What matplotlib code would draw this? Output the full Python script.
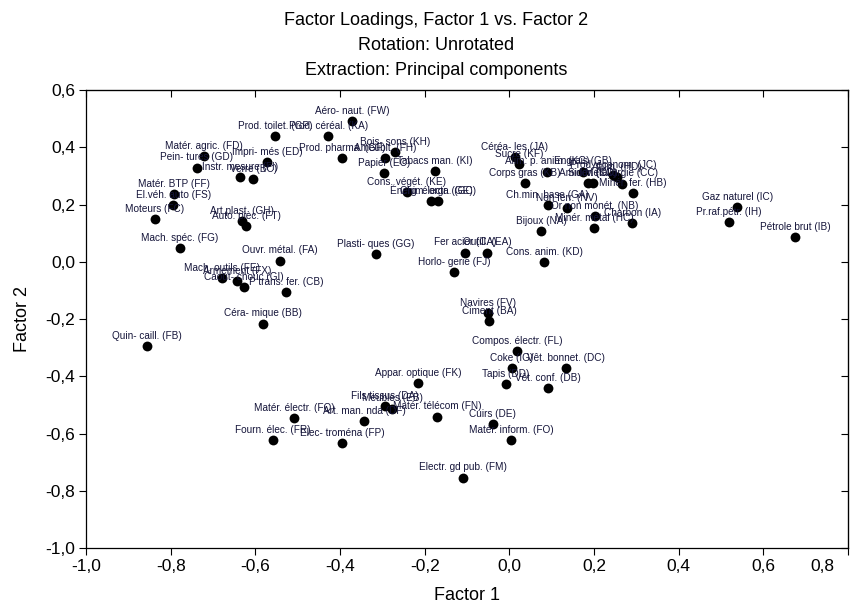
"""
Factor loadings, Factor 1 vs. Factor 2 (unrotated, principal components)
"""

import matplotlib
matplotlib.use('Agg')
import matplotlib.pyplot as plt
import matplotlib.transforms as mtransforms
from matplotlib.ticker import FuncFormatter

plt.rcParams.update({
    'font.family': ['Liberation Sans', 'DejaVu Sans'],
    'font.size': 12,
})

labels = [
    'Aéro- naut. (FW)', 'Prod. céréal. (KA)', 'Prod. toilet. (GP)', 'Matér. agric. (FD)',
    'Pein- tures (GD)', 'Impri- més (ED)', 'Instr. mesure (FI)', 'Verre (BC)',
    'Matér. BTP (FF)', 'El.véh. auto (FS)', 'Moteurs (FC)', 'Art.plast. (GH)',
    'Auto. pièc. (FT)', 'Mach. spéc. (FG)', 'Ouvr. métal. (FA)', 'Plasti- ques (GG)',
    'Prod. pharma. (GF)', 'Bois- sons (KH)', 'Ameublt. (FH)', 'Papier (EC)',
    'Cons. végét. (KE)', 'Tabacs man. (KI)', 'Énerg. électr. (GE)', 'Chim. orga. (GC)',
    'Fer acier (CA)', 'Outill. (EA)', 'Horlo- gerie (FJ)', 'Cons. anim. (KD)',
    'Bijoux (NA)', 'Navires (FV)', 'Ciment (BA)', 'Compos. électr. (FL)',
    'Coke (IG)', 'Vêt. bonnet. (DC)', 'Tapis (DD)', 'Vêt. conf. (DB)',
    'Appar. optique (FK)', 'Fils tissus (DA)', 'Meubles (EB)', 'Art. man. nda (DF)',
    'Matér. électr. (FQ)', 'Matér. télécom (FN)', 'Fourn. élec. (FR)', 'Elec- troména (FP)',
    'Cuirs (DE)', 'Matér. inform. (FO)', 'Electr. gd pub. (FM)', 'Quin- caill. (FB)',
    'Céra- mique (BB)', 'Mach. outils (FE)', 'Armement (FX)', 'Caout- chouc (GI)',
    'P trans. fer. (CB)', 'Céréa- les (JA)', 'Sucre (KF)', 'Alim. p. anim. (KG)',
    'Corps gras (KB)', 'Engrais (GB)', 'Amidon (KC)', 'Sidér. (CD)',
    'Prod. économ. (JC)', 'Alum. (HD)', 'Métallurgie (CC)', 'Minér. fer. (HB)',
    'Ch.min. base (GA)', 'Non ferr. (NV)', 'Or non monét. (NB)', 'Charbon (IA)',
    'Minér. métal (HC)', 'Gaz naturel (IC)', 'Pr.raf.pétr. (IH)', 'Pétrole brut (IB)',
]

factor1 = [
    -0.372, -0.428, -0.553, -0.721, -0.738, -0.572, -0.636, -0.605,
    -0.792, -0.794, -0.837, -0.631, -0.622, -0.778, -0.542, -0.315,
    -0.395, -0.270, -0.294, -0.296, -0.242, -0.176, -0.185, -0.168,
    -0.105, -0.053, -0.131, 0.082, 0.075, -0.050, -0.048, 0.018,
    0.006, 0.134, -0.008, 0.091, -0.216, -0.294, -0.277, -0.343,
    -0.509, -0.171, -0.558, -0.395, -0.039, 0.004, -0.109, -0.856,
    -0.582, -0.679, -0.643, -0.627, -0.528, 0.013, 0.023, 0.089,
    0.037, 0.174, 0.186, 0.198, 0.245, 0.254, 0.266, 0.292,
    0.091, 0.136, 0.202, 0.290, 0.200, 0.538, 0.519, 0.675,
]

factor2 = [
    0.492, 0.439, 0.439, 0.369, 0.328, 0.348, 0.296, 0.289,
    0.237, 0.198, 0.149, 0.142, 0.125, 0.048, 0.003, 0.027,
    0.362, 0.383, 0.362, 0.310, 0.244, 0.317, 0.212, 0.212,
    0.031, 0.031, -0.036, -0.001, 0.107, -0.179, -0.207, -0.312,
    -0.371, -0.371, -0.427, -0.441, -0.424, -0.504, -0.514, -0.556,
    -0.546, -0.542, -0.623, -0.633, -0.567, -0.623, -0.755, -0.294,
    -0.217, -0.057, -0.067, -0.088, -0.106, 0.366, 0.341, 0.314,
    0.275, 0.314, 0.275, 0.275, 0.303, 0.296, 0.272, 0.240,
    0.198, 0.188, 0.160, 0.135, 0.118, 0.191, 0.139, 0.086,
]

x_ticks = [-1.0, -0.8, -0.6, -0.4, -0.2, 0.0, 0.2, 0.4, 0.6, 0.8]
y_ticks = [-1.0, -0.8, -0.6, -0.4, -0.2, 0.0, 0.2, 0.4, 0.6]

fig = plt.figure(figsize=(8.61, 6.05), dpi=100)
ax = fig.add_axes([0.0999, 0.0942, 0.885, 0.757])

ax.scatter(factor1, factor2, s=50, color='black', zorder=3, linewidths=0)

for lab, x, y in zip(labels, factor1, factor2):
    ax.annotate(lab, (x, y), xytext=(0, 7.5), textcoords='offset points',
                ha='center', va='center', fontsize=7.2, color='#15153a')

ax.set_xlim(-1.0, 0.8)
ax.set_ylim(-1.0, 0.6)
ax.set_xticks(x_ticks)
ax.set_yticks(y_ticks)
comma = FuncFormatter(lambda v, p: f'{v:.1f}'.replace('.', ',').replace('-0,0', '0,0'))
ax.xaxis.set_major_formatter(comma)
ax.yaxis.set_major_formatter(comma)
ax.tick_params(direction='out', length=5, width=0.8, labelsize=12.5, pad=3)

# last x label is pulled inside the frame, as in the original export
fig.canvas.draw()
last = ax.get_xticklabels()[-1]
last.set_transform(last.get_transform() + mtransforms.ScaledTranslation(-0.26, 0, fig.dpi_scale_trans))

# inward ticks on top and right, Statistica style
top = ax.secondary_xaxis('top')
top.set_xticks(x_ticks)
top.tick_params(direction='in', length=5, width=0.8, labeltop=False)
right = ax.secondary_yaxis('right')
right.set_yticks(y_ticks)
right.tick_params(direction='in', length=5, width=0.8, labelright=False)

for sp in ax.spines.values():
    sp.set_linewidth(0.9)

ax.set_xlabel('Factor 1', fontsize=13, labelpad=9)
ax.set_ylabel('Factor 2', fontsize=13, labelpad=10)

fig.text(0.507, 0.966, 'Factor Loadings, Factor 1 vs. Factor 2', ha='center', va='center', fontsize=13)
fig.text(0.507, 0.925, 'Rotation: Unrotated', ha='center', va='center', fontsize=13)
fig.text(0.507, 0.884, 'Extraction: Principal components', ha='center', va='center', fontsize=13)

fig.savefig('out.png', dpi=100, facecolor='white')
plt.close()
